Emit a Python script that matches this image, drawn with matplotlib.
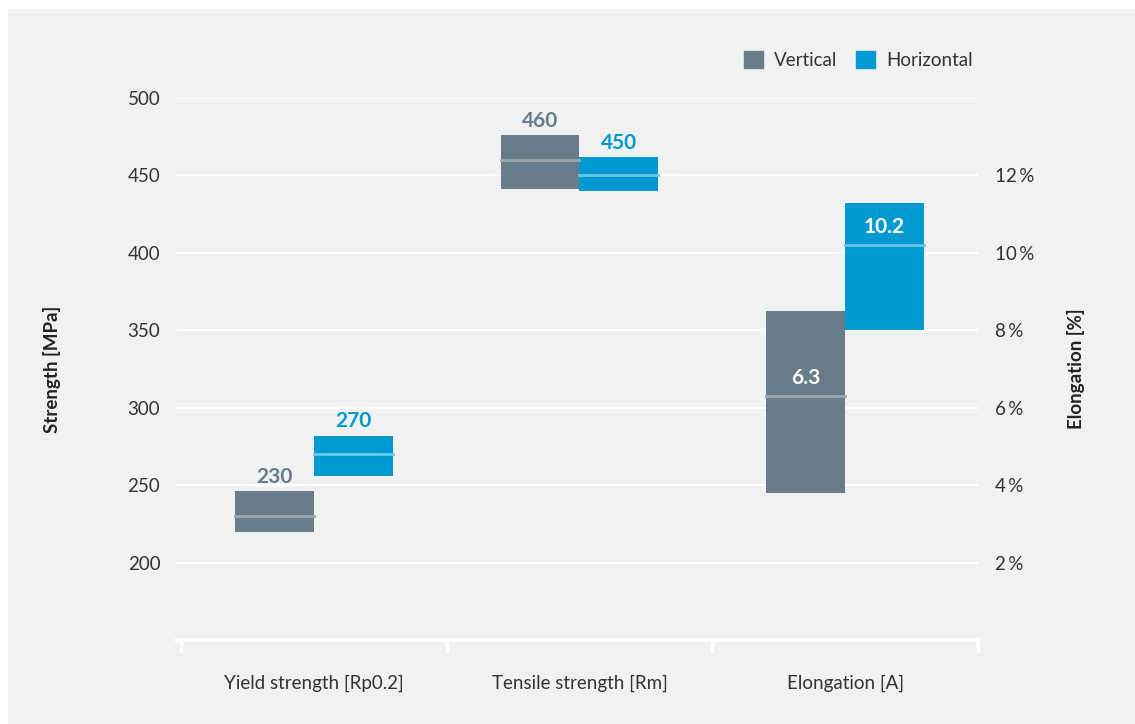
import numpy as np
import matplotlib.pyplot as plt
from matplotlib.patches import Rectangle

plt.rcParams['font.family'] = ['Lato', 'DejaVu Sans']

categories = ['Yield strength [Rp0.2]', 'Tensile strength [Rm]', 'Elongation [A]']
series = ['Vertical', 'Horizontal']
colors = ['#687d89', '#0099d1']
median_colors = ['#9ba7ae', '#6cc6e8']

# min, median, max per category (last category is elongation in %)
vert_min = [220, 441, 3.8]
vert_med = [230, 460, 6.3]
vert_max = [246, 476, 8.5]
hor_min = [256, 440, 8.0]
hor_med = [270, 450, 10.2]
hor_max = [282, 462, 11.3]

strength_ticks = [200, 250, 300, 350, 400, 450, 500]
pct_ticks = [2, 4, 6, 8, 10, 12]

fig = plt.figure(figsize=(11.35, 7.24), dpi=100)
fig.patch.set_facecolor('white')
fig.patches.append(Rectangle((8 / 1135, 0), 1, 1 - 9 / 724, transform=fig.transFigure,
                             facecolor='#f0f1f1', edgecolor='none', zorder=-10))

ax = fig.add_axes([177 / 1135, 1 - 640 / 724, (978 - 177) / 1135, (640 - 98) / 724])
ax.set_facecolor('none')
ax2 = ax.twinx()

ax.set_xlim(-0.515, 2.5)
ax.set_ylim(150, 500)
ax2.set_ylim(0, (500 - 150) / 25)

for a in (ax, ax2):
    for s in a.spines.values():
        s.set_visible(False)

ax.set_yticks(strength_ticks)
ax.set_yticklabels([str(t) for t in strength_ticks])
ax.tick_params(axis='y', length=0, pad=12, labelsize=13.5, labelcolor='#333333')
ax.grid(axis='y', color='white', linewidth=1.6)
ax.set_axisbelow(True)

ax2.set_yticks(pct_ticks)
ax2.set_yticklabels([f'{t}\u2009%' for t in pct_ticks])
ax2.tick_params(axis='y', length=0, pad=12, labelsize=13.5, labelcolor='#333333')

ax.set_xticks([0, 1, 2])
ax.set_xticklabels(categories)
ax.tick_params(axis='x', length=0, pad=25, labelsize=13.5, labelcolor='#333333')
ax.axhline(150, color='white', linewidth=3, clip_on=False, zorder=5)
for b in [-0.5, 0.5, 1.5, 2.5]:
    ax.plot([b, b], [150, 150 - 7], color='white', linewidth=2.5, clip_on=False, zorder=5)

ax.set_ylabel('Strength [MPa]', fontsize=13.5, fontweight='bold', color='#222222', labelpad=48)
ax2.set_ylabel('Elongation [%]', fontsize=13.5, fontweight='bold', color='#222222', labelpad=24)

w = 0.297
mins = [vert_min, hor_min]
meds = [vert_med, hor_med]
maxs = [vert_max, hor_max]
for j in range(2):
    for i in range(3):
        target = ax2 if i == 2 else ax
        x0 = i - w if j == 0 else i
        lo, md, hi = mins[j][i], meds[j][i], maxs[j][i]
        target.bar(x0, hi - lo, bottom=lo, width=w, align='edge', color=colors[j], zorder=3)
        target.plot([x0, x0 + w], [md, md], color=median_colors[j], linewidth=2, zorder=4)
        label = f'{md:g}'
        if i == 2:
            target.annotate(label, (x0 + w / 2, md), xytext=(0, 6), textcoords='offset points',
                            ha='center', va='bottom', color='white', fontsize=15,
                            fontweight='bold', zorder=6)
        else:
            target.annotate(label, (x0 + w / 2, hi), xytext=(0, 3), textcoords='offset points',
                            ha='center', va='bottom', color=colors[j], fontsize=15,
                            fontweight='bold', zorder=6)

handles = [Rectangle((0, 0), 1, 1, color=c) for c in colors]
fig.legend(handles, series, loc='center right', bbox_to_anchor=(980 / 1135, 1 - 60 / 724),
           ncol=2, frameon=False, fontsize=13.5, handlelength=1.0, handleheight=1.0,
           handletextpad=0.6, columnspacing=1.0, borderaxespad=0, labelcolor='#333333')

fig.savefig('out.png', dpi=100, facecolor=fig.get_facecolor())
